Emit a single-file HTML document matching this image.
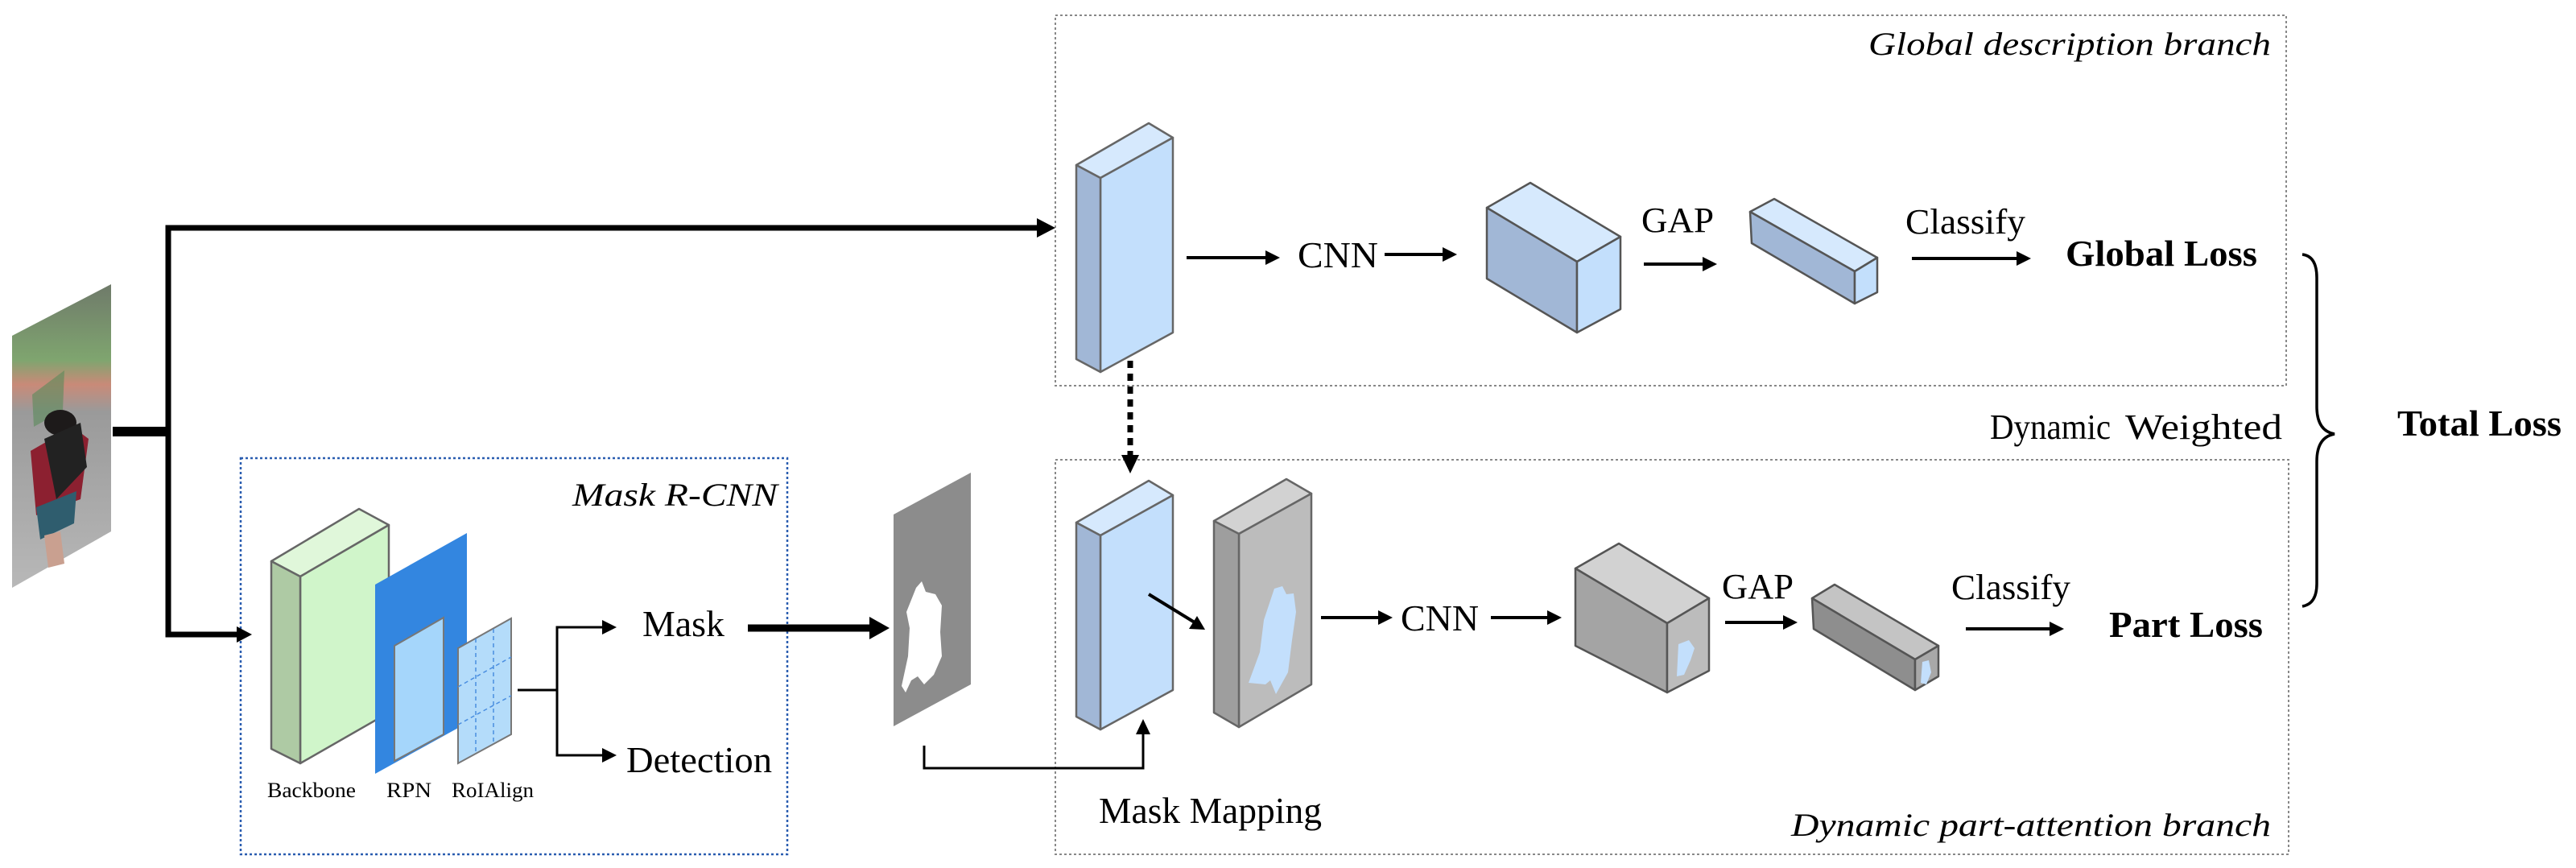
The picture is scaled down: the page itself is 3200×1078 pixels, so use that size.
<!DOCTYPE html>
<html><head><meta charset="utf-8"><style>
html,body{margin:0;padding:0;background:#fff;}
svg{display:block;}
svg text{font-family:"Liberation Serif","Times New Roman",serif !important;fill:#000;}
</style></head><body>
<svg width="3200" height="1078" viewBox="0 0 3200 1078" xmlns="http://www.w3.org/2000/svg" font-family="Liberation Serif, serif">
<defs>
<linearGradient id="ph" x1="0" y1="0" x2="0" y2="1">
<stop offset="0" stop-color="#6f7a6a"/><stop offset="0.25" stop-color="#7fa56f"/><stop offset="0.33" stop-color="#c98a78"/><stop offset="0.42" stop-color="#9a9a9a"/><stop offset="1" stop-color="#b8b8b8"/>
</linearGradient>
</defs>

<rect x="1311" y="19" width="1529" height="460" fill="none" stroke="#888" stroke-width="2" stroke-dasharray="3,3"/>
<rect x="1311" y="571" width="1532" height="490" fill="none" stroke="#888" stroke-width="2" stroke-dasharray="3,3"/>
<rect x="299" y="569" width="679" height="492" fill="none" stroke="#2a5db0" stroke-width="2.5" stroke-dasharray="3,3"/>

<text x="2821" y="68" font-size="40" font-style="italic" text-anchor="end" textLength="500" lengthAdjust="spacingAndGlyphs">Global description branch</text>
<text x="2821" y="1038" font-size="40" font-style="italic" text-anchor="end" textLength="596" lengthAdjust="spacingAndGlyphs">Dynamic part-attention branch</text>
<text x="966" y="628" font-size="40" font-style="italic" text-anchor="end" textLength="255" lengthAdjust="spacingAndGlyphs">Mask R-CNN</text>

<polygon points="15,417 138,353 138,660 15,730" fill="url(#ph)"/>
<polygon points="40,490 80,460 78,510 42,530" fill="#5a8a5a" opacity="0.6"/>
<ellipse cx="75" cy="525" rx="20" ry="16" fill="#1d1a1a"/>
<polygon points="38,560 90,530 110,545 100,620 45,640" fill="#8c2030"/>
<polygon points="55,545 100,525 108,580 70,620" fill="#222"/>
<polygon points="45,630 95,610 92,650 50,670" fill="#2f5d6e"/>
<polygon points="55,665 75,660 80,700 60,705" fill="#c9a090"/>

<line x1="140" y1="536" x2="210" y2="536" stroke="#000" stroke-width="12"/>
<polyline points="1290,283 209,283 209,788 296,788" fill="none" stroke="#000" stroke-width="7"/>
<polygon points="1311,283 1288,271 1288,295" fill="#000"/>
<polygon points="313,788 294,778 294,798" fill="#000"/>

<g stroke="#666" stroke-width="2.5" stroke-linejoin="round">
<polygon points="1337,205 1427,153 1457,171 1367,221" fill="#d6e9fd"/>
<polygon points="1367,221 1457,171 1457,413 1367,462" fill="#c3dffc"/>
<polygon points="1337,205 1367,221 1367,462 1337,446" fill="#a1b7d6"/>
</g>
<line x1="1404" y1="448" x2="1404" y2="565" stroke="#000" stroke-width="7" stroke-dasharray="9,7"/>
<polygon points="1404,588 1393,565 1415,565" fill="#000"/>
<g stroke="#666" stroke-width="2.5" stroke-linejoin="round">
<polygon points="1337,649 1427,597 1457,615 1367,665" fill="#d6e9fd"/>
<polygon points="1367,665 1457,615 1457,857 1367,906" fill="#c3dffc"/>
<polygon points="1337,649 1367,665 1367,906 1337,890" fill="#a1b7d6"/>
</g>

<line x1="1474" y1="320" x2="1575" y2="320" stroke="#000" stroke-width="4"/>
<polygon points="1590,320 1572,311 1572,329" fill="#000"/>
<text x="1612" y="332" font-size="46" textLength="100" lengthAdjust="spacingAndGlyphs">CNN</text>
<line x1="1720" y1="316" x2="1795" y2="316" stroke="#000" stroke-width="4"/>
<polygon points="1810,316 1792,307 1792,325" fill="#000"/>
<g stroke="#555" stroke-width="2.5" stroke-linejoin="round">
<polygon points="1847,258 1901,227 2013,294 1959,325" fill="#d6e9fd"/>
<polygon points="1847,258 1959,325 1959,413 1847,346" fill="#a1b7d6"/>
<polygon points="1959,325 2013,294 2013,384 1959,413" fill="#c3dffc"/>
</g>
<text x="2039" y="288" font-size="44" textLength="90" lengthAdjust="spacingAndGlyphs">GAP</text>
<line x1="2042" y1="328" x2="2118" y2="328" stroke="#000" stroke-width="4"/>
<polygon points="2133,328 2115,319 2115,337" fill="#000"/>
<g stroke="#555" stroke-width="2.5" stroke-linejoin="round">
<polygon points="2174,263 2204,247 2332,320 2304,337" fill="#d6e9fd"/>
<polygon points="2174,263 2304,337 2304,377 2176,302" fill="#a1b7d6"/>
<polygon points="2304,337 2332,320 2332,363 2304,377" fill="#c3dffc"/>
</g>
<text x="2367" y="290" font-size="44" textLength="149" lengthAdjust="spacingAndGlyphs">Classify</text>
<line x1="2375" y1="321" x2="2508" y2="321" stroke="#000" stroke-width="4"/>
<polygon points="2523,321 2505,312 2505,330" fill="#000"/>
<text x="2566" y="330" font-size="46" font-weight="bold" textLength="238" lengthAdjust="spacingAndGlyphs">Global Loss</text>

<path d="M2860,316 Q2878,318 2878,345 L2878,505 Q2878,535 2900,539 Q2878,543 2878,573 L2878,725 Q2878,750 2860,753" fill="none" stroke="#000" stroke-width="3.5"/>
<text x="2978" y="541" font-size="46" font-weight="bold" textLength="204" lengthAdjust="spacingAndGlyphs">Total Loss</text>
<text x="2472" y="545" font-size="44" textLength="150" lengthAdjust="spacingAndGlyphs">Dynamic</text>
<text x="2640" y="545" font-size="44" textLength="195" lengthAdjust="spacingAndGlyphs">Weighted</text>

<line x1="1427" y1="738" x2="1484" y2="773" stroke="#000" stroke-width="4"/>
<polygon points="1497,782 1477,781 1487,765" fill="#000"/>
<g stroke="#666" stroke-width="2.5" stroke-linejoin="round">
<polygon points="1508,647 1598,595 1629,613 1539,663" fill="#d2d2d2"/>
<polygon points="1539,663 1629,613 1629,850 1539,903" fill="#bcbcbc"/>
<polygon points="1508,647 1539,663 1539,903 1508,885" fill="#9e9e9e"/>
</g>
<path d="M1583,731 L1593,728 L1598,738 L1607,737 L1610,760 L1605,795 L1600,835 L1585,862 L1578,845 L1572,850 L1551,848 L1565,810 L1570,770 Z" fill="#c3dffc"/>
<line x1="1641" y1="767" x2="1715" y2="767" stroke="#000" stroke-width="4"/>
<polygon points="1730,767 1712,758 1712,776" fill="#000"/>
<text x="1740" y="783" font-size="46" textLength="97" lengthAdjust="spacingAndGlyphs">CNN</text>
<line x1="1852" y1="767" x2="1925" y2="767" stroke="#000" stroke-width="4"/>
<polygon points="1940,767 1922,758 1922,776" fill="#000"/>
<g stroke="#555" stroke-width="2.5" stroke-linejoin="round">
<polygon points="1957,706 2011,675 2123,743 2071,774" fill="#d2d2d2"/>
<polygon points="1957,706 2071,774 2071,860 1957,802" fill="#a4a4a4"/>
<polygon points="2071,774 2123,743 2123,833 2071,860" fill="#bcbcbc"/>
</g>
<path d="M2085,800 L2098,795 L2105,805 L2100,820 L2092,838 L2083,840 Z" fill="#c3dffc"/>
<text x="2139" y="743" font-size="44" textLength="89" lengthAdjust="spacingAndGlyphs">GAP</text>
<line x1="2143" y1="773" x2="2218" y2="773" stroke="#000" stroke-width="4"/>
<polygon points="2233,773 2215,764 2215,782" fill="#000"/>
<g stroke="#555" stroke-width="2.5" stroke-linejoin="round">
<polygon points="2251,743 2279,726 2408,802 2379,819" fill="#c4c4c4"/>
<polygon points="2251,743 2379,819 2379,857 2253,781" fill="#8e8e8e"/>
<polygon points="2379,819 2408,802 2408,840 2379,857" fill="#a8a8a8"/>
</g>
<path d="M2388,822 L2396,820 L2399,835 L2393,850 L2386,848 Z" fill="#c3dffc"/>
<text x="2424" y="744" font-size="44" textLength="148" lengthAdjust="spacingAndGlyphs">Classify</text>
<line x1="2442" y1="781" x2="2549" y2="781" stroke="#000" stroke-width="4"/>
<polygon points="2564,781 2546,772 2546,790" fill="#000"/>
<text x="2620" y="791" font-size="46" font-weight="bold" textLength="191" lengthAdjust="spacingAndGlyphs">Part Loss</text>

<g stroke="#666" stroke-width="2.5" stroke-linejoin="round">
<polygon points="337,697 446,632 483,652 373,716" fill="#e0f7da"/>
<polygon points="373,716 483,652 483,885 373,948" fill="#d0f5ca"/>
<polygon points="337,697 373,716 373,948 337,930" fill="#aecaa4"/>
</g>
<polygon points="466,726 580,662 580,898 466,961" fill="#3386e0"/>
<polygon points="490,802 551,767 551,912 490,945" fill="#a5d6fb" stroke="#777" stroke-width="2"/>
<polygon points="569,805 635,768 635,912 569,948" fill="#b4dcfa" stroke="#777" stroke-width="2"/>
<g stroke="#4a8ee0" stroke-width="1.5" stroke-dasharray="5,4">
<line x1="591" y1="793" x2="591" y2="936"/><line x1="613" y1="781" x2="613" y2="924"/>
<line x1="569" y1="853" x2="635" y2="816"/><line x1="569" y1="900" x2="635" y2="864"/>
</g>
<text x="332" y="990" font-size="26" textLength="110" lengthAdjust="spacingAndGlyphs">Backbone</text>
<text x="480" y="990" font-size="26" textLength="56" lengthAdjust="spacingAndGlyphs">RPN</text>
<text x="561" y="990" font-size="26" textLength="102" lengthAdjust="spacingAndGlyphs">RoIAlign</text>

<polyline points="643,857 692,857" fill="none" stroke="#000" stroke-width="3"/>
<polyline points="750,779 692,779 692,938 750,938" fill="none" stroke="#000" stroke-width="3"/>
<polygon points="766,779 748,770 748,788" fill="#000"/>
<polygon points="766,938 748,929 748,947" fill="#000"/>
<text x="798" y="790" font-size="46" textLength="102" lengthAdjust="spacingAndGlyphs">Mask</text>
<text x="778" y="959" font-size="46" textLength="181" lengthAdjust="spacingAndGlyphs">Detection</text>

<line x1="929" y1="780" x2="1082" y2="780" stroke="#000" stroke-width="9"/>
<polygon points="1105,780 1080,766 1080,794" fill="#000"/>

<polygon points="1110,639 1206,587 1206,850 1110,902" fill="#8c8c8c"/>
<path d="M1138,730 L1145,722 L1150,735 L1162,738 L1170,752 L1168,785 L1170,815 L1160,838 L1148,850 L1140,840 L1132,845 L1125,860 L1120,852 L1128,815 L1130,780 L1126,760 Z" fill="#fff"/>

<polyline points="1148,926 1148,954 1420,954 1420,910" fill="none" stroke="#000" stroke-width="3"/>
<polygon points="1420,893 1411,912 1429,912" fill="#000"/>
<text x="1365" y="1022" font-size="46" textLength="277" lengthAdjust="spacingAndGlyphs">Mask Mapping</text>
</svg>
</body></html>
